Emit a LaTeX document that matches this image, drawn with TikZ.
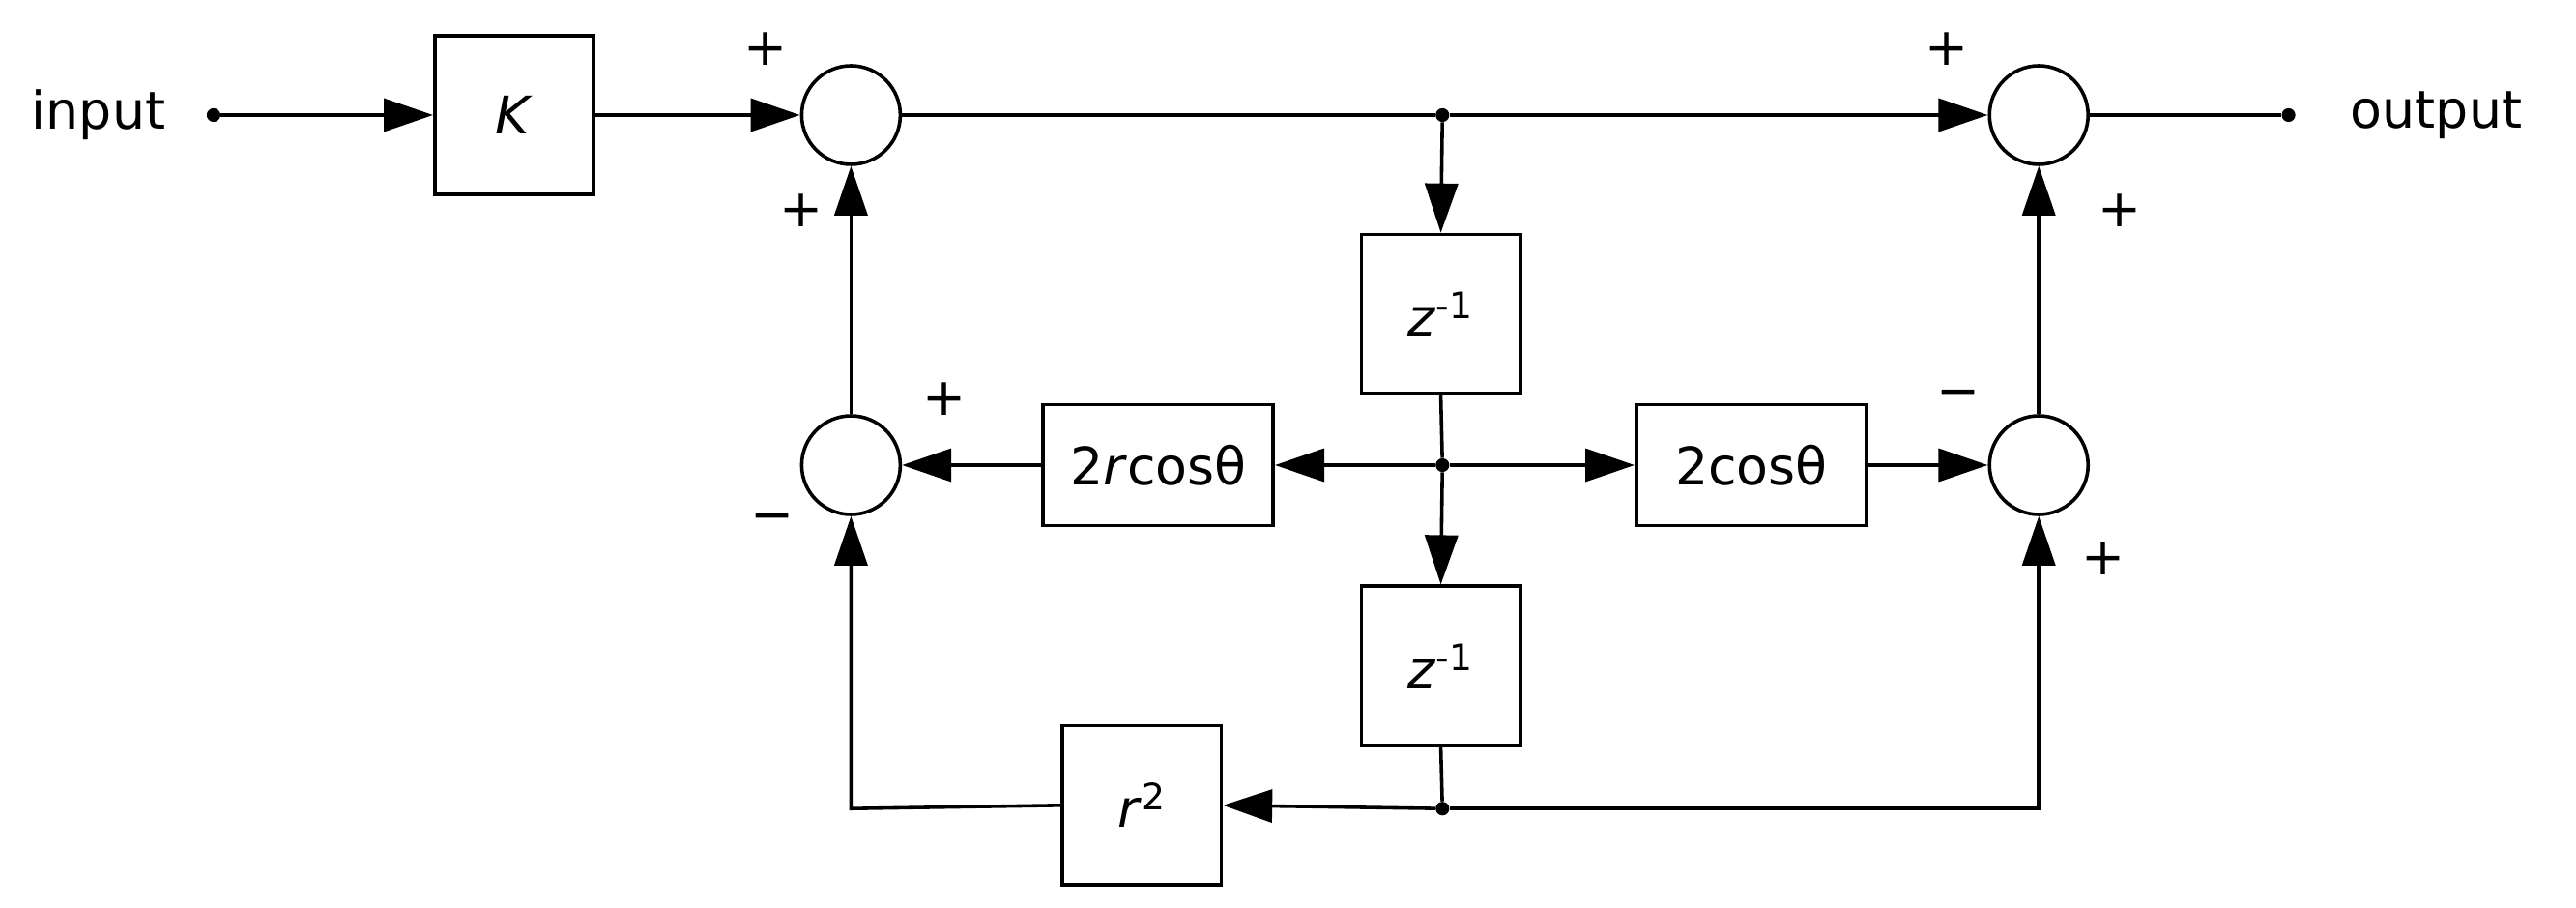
\documentclass[tikz,border=0pt]{standalone}
\usepackage{fontspec}
\setmainfont{DejaVu Sans}
\usetikzlibrary{arrows.meta}
\begin{document}
\begin{tikzpicture}
	[
		x=0.03cm, y=-0.03cm,
		every node/.style={font=\fontsize{27}{32}\selectfont},
		block/.style={draw=black, line width=1.8pt, minimum width=2.9cm, minimum height=2.9cm, inner sep=1mm},
		wide/.style={block, minimum width=4.2cm, minimum height=2.2cm},
		adder/.style={draw=black, line width=1.8pt, circle, minimum size=1.8cm, inner sep=0pt},
		dot/.style={circle, fill=black, inner sep=0pt, minimum size=0.25cm},
		sig/.style={line width=1.8pt, -{Triangle[length=0.9cm, width=0.6cm]}},
		wire/.style={line width=1.8pt}
	]
	\useasboundingbox (0,0) rectangle (1568,552);

	\node (input)   at (60, 70) {input};
	\node (indot)   at (130, 70) [dot] {};
	\node (gain)    at (313, 70) [block] {\textit{K}};
	\node (sumA)    at (518, 70) [adder] {};
	\node (topjn)   at (878, 70) [dot] {};
	\node (sumB)    at (1241, 70) [adder] {};
	\node (outdot)  at (1393, 70) [dot] {};
	\node (output)  at (1483, 70) {output};

	\node (delayA)  at (877, 191) [block] {\textit{z}\textsuperscript{-1}};
	\node (sumC)    at (518, 283) [adder] {};
	\node (coefA)   at (705, 283) [wide] {2\textit{r}cosθ};
	\node (midjn)   at (878, 283) [dot] {};
	\node (coefB)   at (1066, 283) [wide] {2cosθ};
	\node (sumD)    at (1241, 283) [adder] {};
	\node (delayB)  at (877, 405) [block] {\textit{z}\textsuperscript{-1}};
	\node (square)  at (695, 490) [block] {\textit{r}\textsuperscript{2}};
	\node (botjn)   at (878, 492) [dot] {};
	\coordinate (cornerL) at (518, 492);
	\coordinate (cornerR) at (1241, 492);

	% signs
	\node at (466, 30) {+};
	\node at (488, 128) {+};
	\node at (575, 243) {+};
	\node at (470, 318) {\textminus};
	\node at (1185, 30) {+};
	\node at (1290, 128) {+};
	\node at (1192, 243) {\textminus};
	\node at (1280, 340) {+};

	\draw [sig] (indot) -- (gain.west);
	\draw [sig] (gain.east) -- (sumA.west);
	\draw [wire] (sumA.east) -- (topjn);
	\draw [sig] (topjn) -- (sumB.west);
	\draw [wire] (sumB.east) -- (outdot);
	\draw [sig] (topjn) -- (delayA.north);
	\draw [wire] (delayA.south) -- (midjn);
	\draw [sig] (midjn) -- (coefA.east);
	\draw [sig] (midjn) -- (coefB.west);
	\draw [sig] (coefA.west) -- (sumC.east);
	\draw [sig] (coefB.east) -- (sumD.west);
	\draw [sig] (midjn) -- (delayB.north);
	\draw [wire] (delayB.south) -- (botjn);
	\draw [sig] (botjn) -- (square.east);
	\draw [sig] (square.west) -- (cornerL) -- (sumC.south);
	\draw [sig] (botjn) -- (cornerR) -- (sumD.south);
	\draw [sig] (sumC.north) -- (sumA.south);
	\draw [sig] (sumD.north) -- (sumB.south);
\end{tikzpicture}
\end{document}
